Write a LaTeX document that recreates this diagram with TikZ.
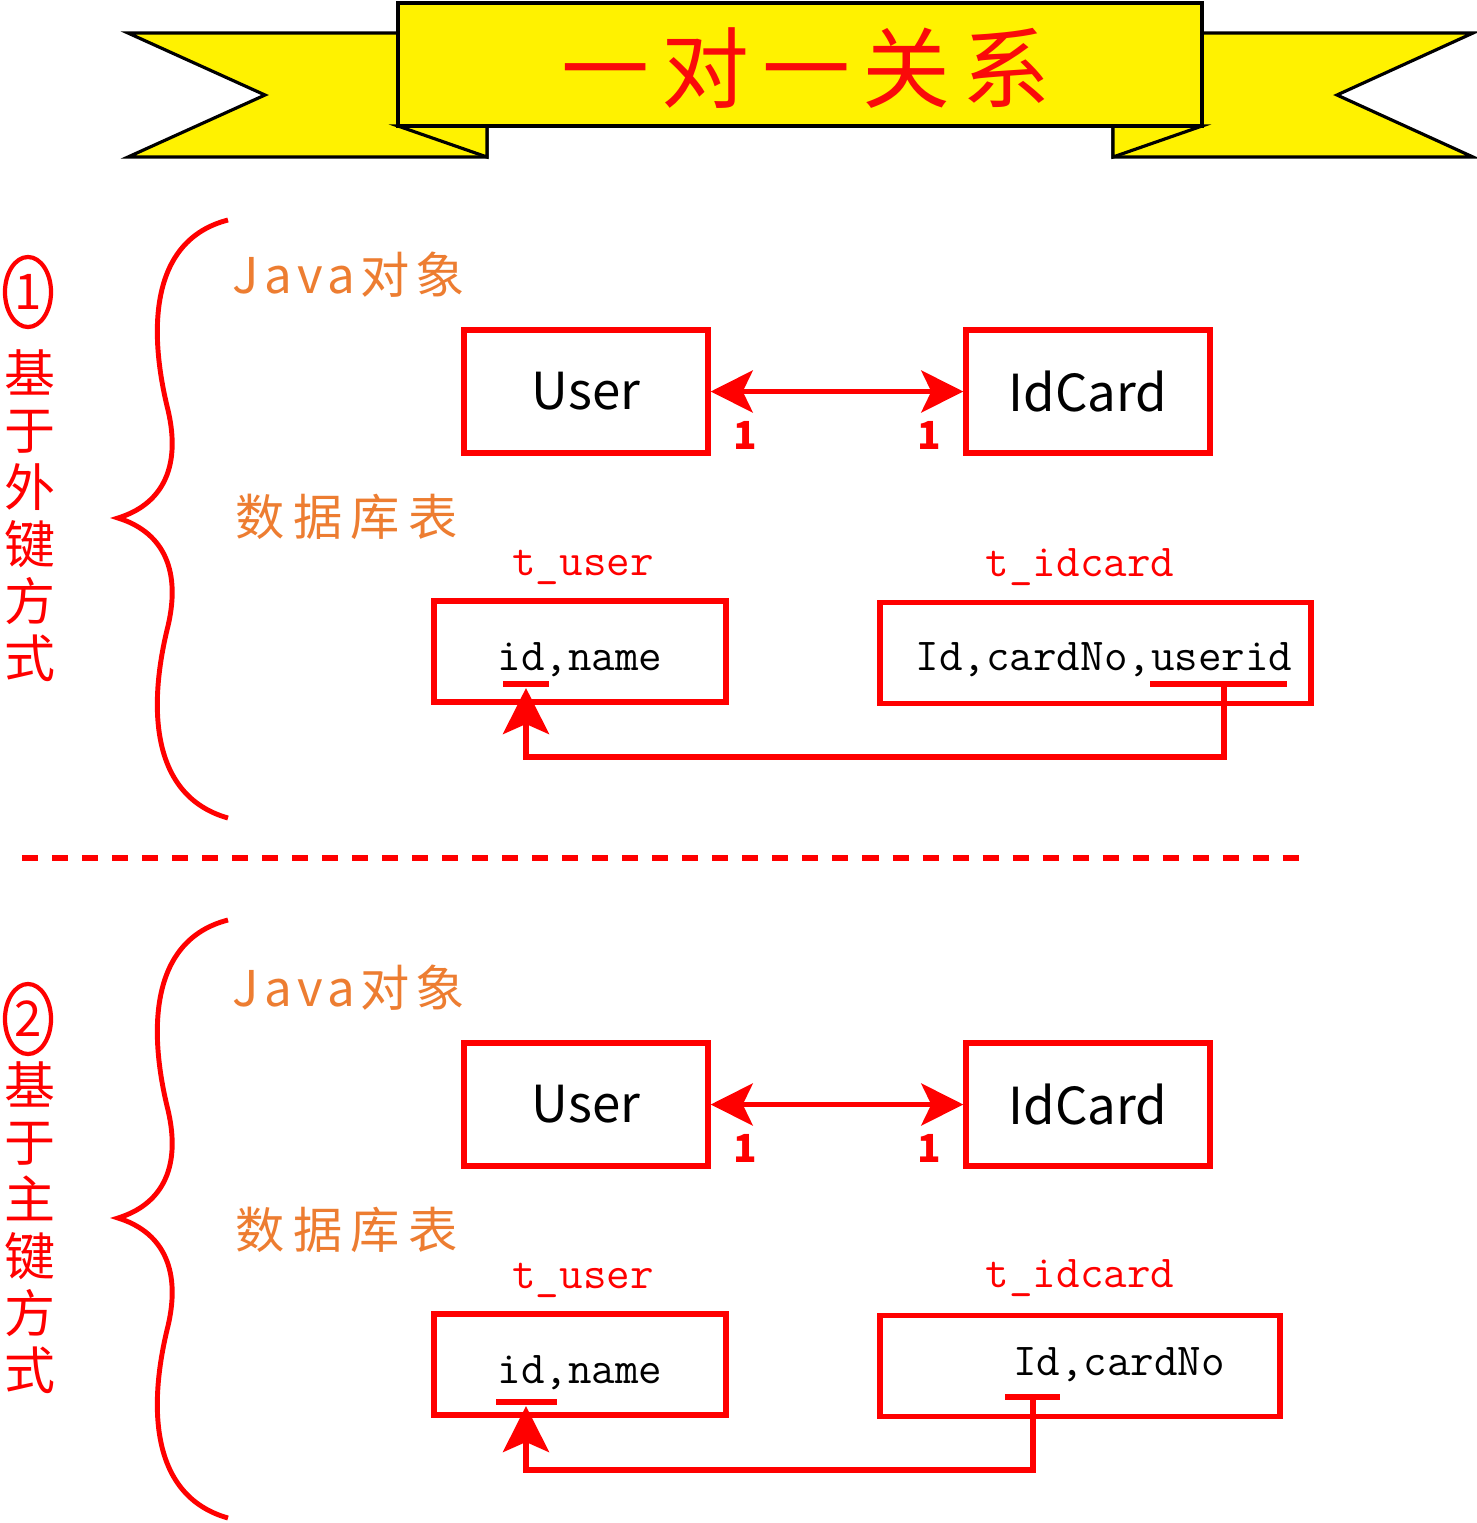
\documentclass[tikz,border=0pt]{standalone}
\usepackage{fontspec}
\usepackage{tikz}
\usetikzlibrary{arrows.meta}
\usetikzlibrary{shapes.geometric}
\newfontfamily\cjk{Noto Sans CJK SC}
\newfontfamily\cjkwide[LetterSpace=17]{Noto Sans CJK SC}
\newfontfamily\cjkjava[LetterSpace=11]{Noto Sans CJK SC}
\newfontfamily\cjktitle[LetterSpace=14]{Noto Sans CJK SC}
\definecolor{jorange}{RGB}{237,125,49}
\definecolor{bannerred}{RGB}{250,10,10}

\tikzset{
    banner/.style={draw=black, line width=0.9pt, fill=yellow, line join=miter},
    titletext/.style={text=bannerred, font=\cjktitle\fontsize{25}{30}\selectfont},
    circnum/.style={draw=red, ellipse, line width=1.2pt, minimum width=0.46cm, minimum height=0.7cm, inner sep=0pt, text=red, font=\cjk\fontsize{14}{16}\selectfont},
    vlabel/.style={text=red, align=center, inner sep=0pt, font=\cjk\fontsize{14.5}{16.2}\selectfont},
    brace/.style={draw=red, line width=1.4pt},
    sect/.style={text=jorange, anchor=west, inner sep=0pt, font=\cjkwide\fontsize{14}{16}\selectfont},
    objbox/.style={draw=red, line width=1.5pt, minimum width=2.44cm, minimum height=1.23cm, font=\cjk\fontsize{14.5}{17}\selectfont},
    rel/.style={red, line width=1.5pt, arrows={Stealth[length=0.42cm,width=0.42cm,inset=0.1cm]-Stealth[length=0.42cm,width=0.42cm,inset=0.1cm]}},
    mult/.style={text=red, inner sep=0pt, font=\cjk\bfseries\fontsize{11}{13}\selectfont},
    tblname/.style={text=red, inner sep=0pt, font=\ttfamily\fontsize{13}{15}\selectfont},
    tblbox/.style={draw=red, line width=1.5pt, minimum height=1.01cm},
    tbltext/.style={inner sep=0pt, font=\ttfamily\fontsize{13}{15}\selectfont},
    keyline/.style={red, line width=1.5pt},
    fklink/.style={red, line width=1.5pt, arrows={-Stealth[length=0.46cm,width=0.46cm,inset=0.1cm]}}
}

\begin{document}
\begin{tikzpicture}[x=0.01cm,y=-0.01cm]
            \useasboundingbox (0,0) rectangle (1477,1523);
            \fill[white] (0,0) rectangle (1477,1523);

            \draw[banner] (128,33) -- (487,33) -- (487,157) -- (128,157) -- (265,95) -- cycle;
            \draw[banner] (1473,33) -- (1113,33) -- (1113,157) -- (1473,157) -- (1337,95) -- cycle;
            \draw[banner] (398,126) -- (487,157) -- (487,126) -- cycle;
            \draw[banner] (1202,126) -- (1113,157) -- (1113,126) -- cycle;
            \draw[banner] (398,3) rectangle (1202,126);
            \node[titletext] (title) at (806,68) {一对一关系};

            \node[circnum] (num1) at (28,292) {1};
            \node[vlabel] (way1) at (30,516) {基\\于\\外\\键\\方\\式};
            \draw[brace] (228,220) .. controls (150,240) and (148,330) .. (168,410)
                .. controls (182,470) and (160,505) .. (118,518)
                .. controls (160,531) and (182,566) .. (168,626)
                .. controls (148,706) and (150,796) .. (228,818);
            \node[sect, font=\cjkjava\fontsize{14}{16}\selectfont] (java1) at (232,275) {Java对象};
            \node[sect] (db1) at (235,517) {数据库表};

            \node[objbox] (user1) at (586,391.5) {User};
            \node[objbox] (idcard1) at (1088,391.5) {IdCard};
            \draw[rel] (user1) -- (idcard1);
            \node[mult] (m1a) at (745,435) {1};
            \node[mult] (m1b) at (929,435) {1};

            \node[tblname] (tn1a) at (583,567) {t\_user};
            \node[tblname] (tn1b) at (1080,567) {t\_idcard};
            \node[tblbox, minimum width=2.92cm] (tuser1) at (580,651.5) {};
            \node[tblbox, minimum width=4.31cm] (tidcard1) at (1095.5,653) {};
            \node[tbltext] (cols1a) at (580,660) {id,name};
            \node[tbltext] (cols1b) at (1104,660) {Id,cardNo,userid};
            \draw[keyline] (503,684) -- (549,684);
            \draw[keyline] (1150,684) -- (1287,684);
            \coordinate (fk1) at (1224,684);
            \coordinate (bend1) at (1224,757);
            \coordinate (pk1) at (526,688);
            \draw[fklink] (fk1) -- (bend1) -| (pk1);

            \draw[red, line width=1.5pt, dash pattern=on 0.16cm off 0.14cm] (22,858) -- (1305,858);

            \node[circnum] (num2) at (28,1019) {2};
            \node[vlabel] (way2) at (30,1228) {基\\于\\主\\键\\方\\式};
            \draw[brace] (228,920) .. controls (150,940) and (148,1030) .. (168,1110)
                .. controls (182,1170) and (160,1205) .. (118,1218)
                .. controls (160,1231) and (182,1266) .. (168,1326)
                .. controls (148,1406) and (150,1496) .. (228,1518);
            \node[sect, font=\cjkjava\fontsize{14}{16}\selectfont] (java2) at (232,988) {Java对象};
            \node[sect] (db2) at (235,1230) {数据库表};

            \node[objbox] (user2) at (586,1104.5) {User};
            \node[objbox] (idcard2) at (1088,1104.5) {IdCard};
            \draw[rel] (user2) -- (idcard2);
            \node[mult] (m2a) at (745,1148) {1};
            \node[mult] (m2b) at (929,1148) {1};

            \node[tblname] (tn2a) at (583,1280) {t\_user};
            \node[tblname] (tn2b) at (1080,1278) {t\_idcard};
            \node[tblbox, minimum width=2.92cm] (tuser2) at (580,1364.5) {};
            \node[tblbox, minimum width=4.0cm] (tidcard2) at (1080,1366) {};
            \node[tbltext] (cols2a) at (580,1373) {id,name};
            \node[tbltext] (cols2b) at (1119,1365) {Id,cardNo};
            \draw[keyline] (496,1402) -- (557,1402);
            \draw[keyline] (1005,1397) -- (1060,1397);
            \coordinate (fk2) at (1033,1397);
            \coordinate (bend2) at (1033,1470);
            \coordinate (pk2) at (526,1406);
            \draw[fklink] (fk2) -- (bend2) -| (pk2);
\end{tikzpicture}
\end{document}
